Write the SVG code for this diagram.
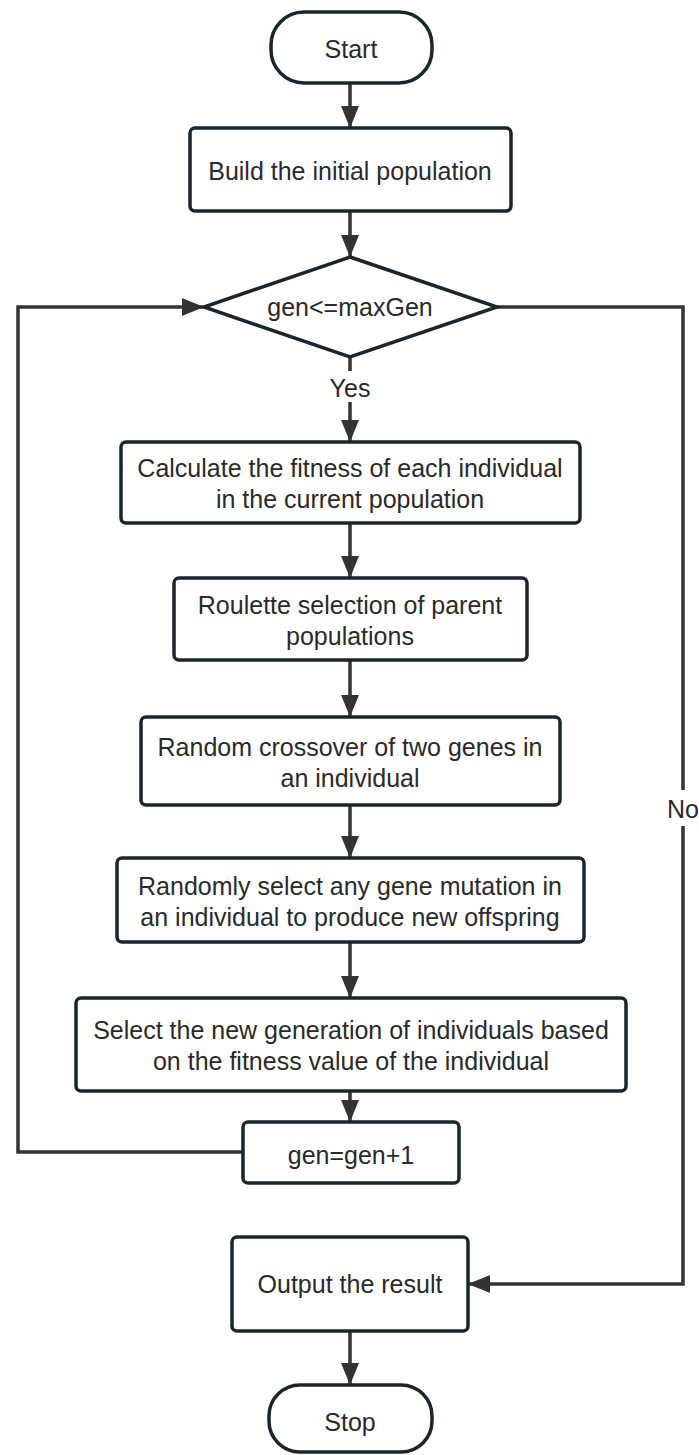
<svg xmlns="http://www.w3.org/2000/svg" width="699" height="1455" viewBox="0 0 699 1455">
  <style>
    .shape { fill: #ffffff; stroke: #1b262c; stroke-width: 3.5; }
    .line { fill: none; stroke: #333333; stroke-width: 3.5; }
    .txt { font-family: "Liberation Sans", Arial, Helvetica, sans-serif; font-size: 25px; fill: #2a2a2a; text-anchor: middle; }
  </style>
  <defs>
    <marker id="arrow" viewBox="0 0 22 18" refX="21" refY="9" markerWidth="22" markerHeight="18" markerUnits="userSpaceOnUse" orient="auto">
      <path d="M0,0 L22,9 L0,18 z" fill="#333333"/>
    </marker>
  </defs>
  <rect width="699" height="1455" fill="#ffffff"/>

  <g id="connectors">
    <line class="line" x1="350" y1="83" x2="350" y2="127" marker-end="url(#arrow)"/>
    <line class="line" x1="350" y1="211" x2="350" y2="256" marker-end="url(#arrow)"/>
    <line class="line" x1="350" y1="357" x2="350" y2="371"/>
    <text class="txt" x="350" y="397">Yes</text>
    <line class="line" x1="350" y1="402" x2="350" y2="441" marker-end="url(#arrow)"/>
    <line class="line" x1="350" y1="523" x2="350" y2="577" marker-end="url(#arrow)"/>
    <line class="line" x1="350" y1="660" x2="350" y2="716" marker-end="url(#arrow)"/>
    <line class="line" x1="350" y1="805" x2="350" y2="857" marker-end="url(#arrow)"/>
    <line class="line" x1="350" y1="942" x2="350" y2="997" marker-end="url(#arrow)"/>
    <line class="line" x1="350" y1="1091" x2="350" y2="1121" marker-end="url(#arrow)"/>
    <polyline class="line" points="243,1152 18,1152 18,307 203,307" marker-end="url(#arrow)"/>
    <polyline class="line" points="497,307 683,307 683,790"/>
    <text class="txt" x="683" y="818">No</text>
    <polyline class="line" points="683,826 683,1284 469,1284" marker-end="url(#arrow)"/>
    <line class="line" x1="350" y1="1331" x2="350" y2="1384" marker-end="url(#arrow)"/>
  </g>

  <g id="start">
    <rect class="shape" x="271" y="12" width="161" height="71" rx="33" ry="33"/>
    <text class="txt" x="351" y="57.5">Start</text>
  </g>

  <g id="build">
    <rect class="shape" x="190" y="128" width="321" height="83" rx="5"/>
    <text class="txt" x="350" y="180">Build the initial population</text>
  </g>

  <g id="decision">
    <polygon class="shape" points="350,257 497,307 350,357 204,307"/>
    <text class="txt" x="350" y="316">gen&lt;=maxGen</text>
  </g>

  <g id="calc">
    <rect class="shape" x="121" y="442" width="459" height="81" rx="5"/>
    <text class="txt" x="350" y="477">Calculate the fitness of each individual</text>
    <text class="txt" x="350" y="508">in the current population</text>
  </g>

  <g id="roulette">
    <rect class="shape" x="174" y="578" width="353" height="82" rx="5"/>
    <text class="txt" x="350" y="614">Roulette selection of parent</text>
    <text class="txt" x="350" y="645">populations</text>
  </g>

  <g id="crossover">
    <rect class="shape" x="141" y="717" width="419" height="88" rx="5"/>
    <text class="txt" x="350" y="756">Random crossover of two genes in</text>
    <text class="txt" x="350" y="787">an individual</text>
  </g>

  <g id="mutation">
    <rect class="shape" x="117" y="858" width="467" height="84" rx="5"/>
    <text class="txt" x="350" y="895">Randomly select any gene mutation in</text>
    <text class="txt" x="350" y="926">an individual to produce new offspring</text>
  </g>

  <g id="select">
    <rect class="shape" x="76" y="998" width="550" height="93" rx="5"/>
    <text class="txt" x="351" y="1039">Select the new generation of individuals based</text>
    <text class="txt" x="351" y="1070">on the fitness value of the individual</text>
  </g>

  <g id="increment">
    <rect class="shape" x="243" y="1122" width="216" height="61" rx="5"/>
    <text class="txt" x="351" y="1164">gen=gen+1</text>
  </g>

  <g id="output">
    <rect class="shape" x="232" y="1237" width="236" height="94" rx="5"/>
    <text class="txt" x="350" y="1293">Output the result</text>
  </g>

  <g id="stop">
    <rect class="shape" x="269" y="1385" width="163" height="67" rx="31" ry="31"/>
    <text class="txt" x="350" y="1431">Stop</text>
  </g>
</svg>
